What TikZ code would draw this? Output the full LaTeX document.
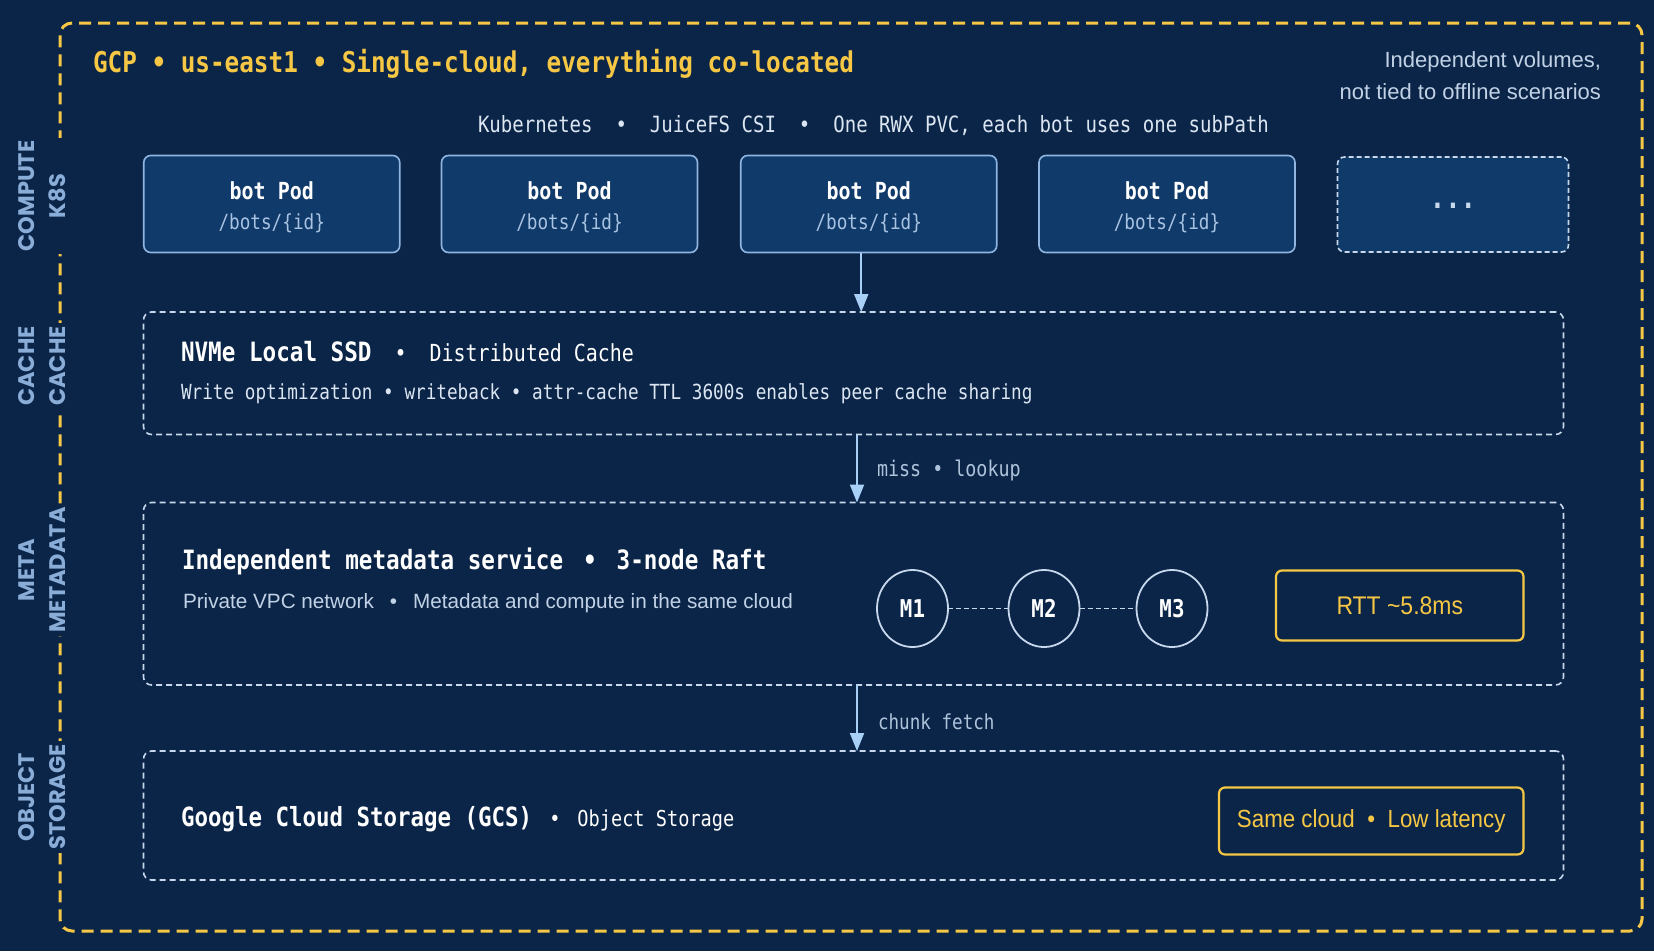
\documentclass[tikz,border=0pt]{standalone}
\usepackage{fontspec}
\setmainfont{Liberation Sans}
\newfontfamily\monof[FakeStretch=0.85]{DejaVu Sans Mono}
\newfontfamily\narrowf[FakeStretch=0.9]{Liberation Sans}
\newfontfamily\sidefont{Poppins}
\usetikzlibrary{arrows.meta,shapes.geometric}
\definecolor{bg}{HTML}{0B2548}
\definecolor{gold}{HTML}{F6C744}
\definecolor{podfill}{HTML}{103A6A}
\definecolor{podline}{HTML}{8FB5E0}
\definecolor{secline}{HTML}{C8D8EC}
\definecolor{arrowc}{HTML}{A8D0F6}
\definecolor{sidec}{HTML}{8AADD8}
\definecolor{subtxt}{HTML}{C2D2E6}
\definecolor{pathc}{HTML}{A9C3E2}
\definecolor{lighttxt}{HTML}{DCE6F2}
\definecolor{labtxt}{HTML}{AFC3DB}
\newcommand\fsz[2]{\fontsize{#1}{#2}\selectfont}
\newcommand\bsep[1]{\hspace{#1}•\hspace{#1}}
\begin{document}
\begin{tikzpicture}[x=1pt,y=-1pt,
  every node/.style={inner sep=0pt, outer sep=0pt},
  frame/.style={draw=gold, line width=3pt, dash pattern=on 12pt off 7pt, rounded corners=12pt},
  side/.style={rotate=90, align=center, font=\sidefont\bfseries\fsz{22.5}{31}, text=sidec, fill=bg, inner sep=3pt},
  pod/.style={draw=podline, fill=podfill, line width=1.6pt, rounded corners=7pt, minimum width=256pt, minimum height=97pt},
  more/.style={draw=secline, fill=podfill, line width=1.6pt, dash pattern=on 5pt off 3pt, rounded corners=7pt, minimum width=231pt, minimum height=95pt},
  podtitle/.style={font=\monof\bfseries\fsz{23.5}{28}, text=white},
  podpath/.style={font=\monof\fsz{20.8}{25}, text=pathc},
  section/.style={draw=secline, line width=1.6pt, dash pattern=on 6pt off 4pt, rounded corners=8pt, minimum width=1420pt},
  badge/.style={draw=gold, line width=2.2pt, rounded corners=6pt, text=gold},
  mnode/.style={ellipse, draw=secline, line width=1.8pt, minimum width=71pt, minimum height=77pt, font=\monof\bfseries\fsz{24.5}{29}, text=white},
  mlink/.style={draw=secline, line width=1.5pt, dash pattern=on 5pt off 3pt},
  flow/.style={draw=arrowc, line width=2pt, -{Triangle[length=18pt,width=14pt]}},
  lbl/.style={anchor=west, font=\monof\fsz{20.7}{25}, text=labtxt}
]
\fill[bg] (0,0) rectangle (1654,951);
\useasboundingbox (0,0) rectangle (1654,951);

% outer frame
\node[frame, minimum width=1582pt, minimum height=908pt] (gcp) at (851,477) {};

% side labels
\node[side] (sidecompute) at (42.5,196) {COMPUTE\\K8S};
\node[side] (sidecache) at (42.5,366) {CACHE\\CACHE};
\node[side] (sidemeta) at (42.5,570) {META\\METADATA};
\node[side] (sidestore) at (42.5,797) {OBJECT\\STORAGE};

% title and notes
\node[anchor=west, text=gold, font=\monof\bfseries\fsz{28.6}{34}] (title) at (93,63.5)
  {GCP • us-east1 • Single-cloud, everything co-located};
\node[anchor=east, align=right, text=subtxt, font=\fsz{22}{32}] (note) at (1601,76)
  {Independent volumes,\\not tied to offline scenarios};
\node[text=lighttxt, font=\monof\fsz{22.4}{26}] (k8s) at (873.5,126)
  {Kubernetes~~•~~JuiceFS CSI~~•~~One RWX PVC, each bot uses one subPath};

% pods
\foreach \i/\x in {1/271.75,2/569.5,3/868.75,4/1167}{
  \node[pod] (pod\i) at (\x,204) {};
  \node[podtitle] (podt\i) at ([yshift=13pt]pod\i.center) {bot Pod};
  \node[podpath] (podp\i) at ([yshift=-19.5pt]pod\i.center) {/bots/\{id\}};
}
\node[more] (podmore) at (1453,204.5) {};
\node[font=\monof\bfseries\fsz{30}{34}, text=secline] (dots) at (1453,206) {...};

% cache
\node[section, minimum height=122.5pt] (cache) at (853.5,373.25) {};
\node[anchor=west, text=white] (cachet) at (181,352)
  {\monof{\bfseries\fsz{26.6}{31}NVMe Local SSD}{\fsz{23.5}{28}\bsep{23pt}Distributed Cache}};
\node[anchor=west, text=lighttxt, font=\monof\fsz{20.8}{24}] (caches) at (181,394)
  {Write optimization • writeback • attr-cache TTL 3600s enables peer cache sharing};

% meta
\node[section, minimum height=182.5pt] (meta) at (853.5,593.75) {};
\node[anchor=west, text=white, font=\monof\bfseries\fsz{26.6}{31}] (metat) at (182,561.5)
  {Independent metadata service\bsep{20pt}3-node Raft};
\node[anchor=west, text=subtxt, font=\fsz{20.7}{25}] (metas) at (183,603.5)
  {Private VPC network\bsep{16pt}Metadata and compute in the same cloud};
\node[mnode] (m1) at (912.5,608.5) {M1};
\node[mnode] (m2) at (1044,608.5) {M2};
\node[mnode] (m3) at (1172,608.5) {M3};
\draw[mlink] (m1) -- (m2);
\draw[mlink] (m2) -- (m3);
\node[badge, minimum width=247.5pt, minimum height=70pt, font=\narrowf\fsz{25.5}{30}] (rtt) at (1399.75,605.5) {RTT \textasciitilde5.8ms};

% storage
\node[section, minimum height=129pt] (store) at (853.5,815.5) {};
\node[anchor=west, text=white] (storet) at (181,819)
  {\monof{\bfseries\fsz{26.4}{31}Google Cloud Storage (GCS)}{\fsz{21.9}{26}\bsep{17pt}Object Storage}};
\node[badge, minimum width=304.5pt, minimum height=67pt, font=\narrowf\fsz{24.8}{29}] (lowlat) at (1371.25,821)
  {Same cloud\bsep{12.5pt}Low latency};

% connectors
\coordinate (a1) at ([xshift=-7.5pt]pod3.south);
\coordinate (spine) at (857,0);
\draw[flow] (a1) -- (a1 |- cache.north);
\draw[flow] (spine |- cache.south) -- (spine |- meta.north);
\draw[flow] (spine |- meta.south) -- (spine |- store.north);
\node[lbl, font=\monof\fsz{21.6}{26}] (misslbl) at (877,470.5) {miss • lookup};
\node[lbl] (chunklbl) at (878,722) {chunk fetch};
\end{tikzpicture}
\end{document}
